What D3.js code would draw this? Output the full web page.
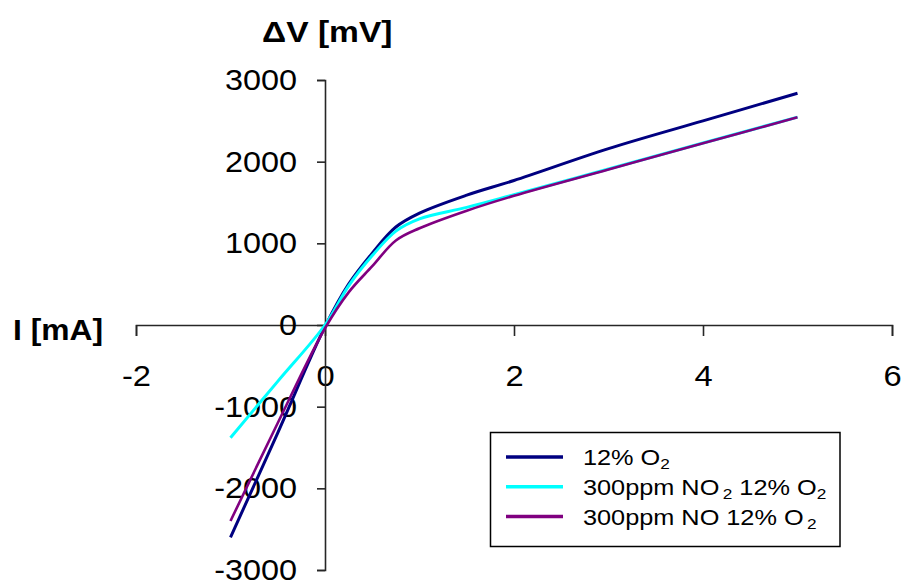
<!DOCTYPE html>
<html><head><meta charset="utf-8">
<script src="https://cdn.jsdelivr.net/npm/d3@7"></script>
<style>
body{margin:0;background:#fff}
svg{display:block}
text{font-family:"Liberation Sans",Arial,Helvetica,sans-serif}
</style>
</head><body>
<svg id="chart" width="901" height="585"></svg>
<script>
// ---- data ----
const currentMA = [-1, -0.5, 0, 0.25, 0.5, 0.75, 1, 1.5, 2, 3, 4, 5];
const o2Only    = [-2600, -1320, -20, 500, 880, 1200, 1370, 1590, 1770, 2160, 2500, 2837];
const no2O2     = [-1380, -690, 0, 480, 850, 1150, 1300, 1440, 1595, 1910, 2228, 2545];
const noO2      = [-2400, -1200, -40, 400, 720, 1035, 1185, 1400, 1582, 1904, 2226, 2543];
const seriesColors = ["#000080", "#00FFFF", "#800080"];
const legendLabels = [
  [["12% O", 0], ["2", 1]],
  [["300ppm NO", 0], ["2", 1], [" 12% O", 0], ["2", 1]],
  [["300ppm NO 12% O", 0], ["2", 1]]
];
const xTicks = [-2, 0, 2, 4, 6];
const yTicks = [-3000, -2000, -1000, 0, 1000, 2000, 3000];

const svg = d3.select("#chart");
const x = d3.scaleLinear().domain([-2, 6]).range([136, 892]);
const y = d3.scaleLinear().domain([-3000, 3000]).range([570, 80]);

const axisColor = "#262626";

// x axis through V=0
const gx = svg.append("g")
  .attr("transform", `translate(0,${y(0)})`)
  .call(d3.axisBottom(x).tickValues(xTicks).tickFormat(d => String(d))
        .tickSize(11).tickSizeOuter(11).tickPadding(29));
// y axis through I=0
const gy = svg.append("g")
  .attr("transform", `translate(${x(0)},0)`)
  .call(d3.axisLeft(y).tickValues(yTicks).tickFormat(d => String(d))
        .tickSize(8).tickSizeOuter(8).tickPadding(20));

[gx, gy].forEach(g => {
  g.selectAll("path.domain").attr("stroke", axisColor).attr("stroke-width", 1.6);
  g.selectAll(".tick line").attr("stroke", axisColor).attr("stroke-width", 1.6);
  g.selectAll(".tick text").attr("fill", "#000").attr("font-size", 30)
    .style("font-family", '"Liberation Sans",Arial,sans-serif');
});
// horizontal stretch of tick labels about their anchor point
gx.selectAll(".tick text").attr("transform", "scale(1.09,1)");
gy.selectAll(".tick text").attr("transform", "translate(-28,0) scale(1.08,1) translate(28,0)");

// axis titles
svg.append("text").attr("transform", "translate(262,42) scale(1.12,1)")
  .attr("font-size", 30).attr("font-weight", "bold").attr("fill", "#000")
  .text("ΔV [mV]");
svg.append("text").attr("transform", "translate(13,340) scale(1.06,1)")
  .attr("font-size", 30).attr("font-weight", "bold").attr("fill", "#000")
  .text("I [mA]");

// series
const series = [o2Only, no2O2, noO2];
const line = d3.line().x(d => x(d[0])).y(d => y(d[1])).curve(d3.curveCatmullRom.alpha(0.5));
series.forEach((vals, i) => {
  svg.append("path")
    .datum(currentMA.map((c, j) => [c, vals[j]]))
    .attr("fill", "none")
    .attr("stroke", seriesColors[i])
    .attr("stroke-width", i === 2 ? 2.6 : 3)
    .attr("stroke-linejoin", "round")
    .attr("d", line);
});

// legend
const lg = svg.append("g");
lg.append("rect").attr("x", 490.5).attr("y", 432.5).attr("width", 349.5).attr("height", 114)
  .attr("fill", "#fff").attr("stroke", "#000").attr("stroke-width", 1.5);
legendLabels.forEach((segs, i) => {
  const cy = 457 + i * 29.8;
  lg.append("line").attr("x1", 506).attr("x2", 563).attr("y1", cy).attr("y2", cy)
    .attr("stroke", seriesColors[i]).attr("stroke-width", 3.5);
  const t = lg.append("text").attr("transform", `translate(583,${cy + 8}) scale(1.15,1)`)
    .attr("font-size", 22).attr("fill", "#000");
  let shifted = false;
  segs.forEach(([s, sub], k) => {
    const ts = t.append("tspan").text(s);
    if (sub) {
      ts.attr("font-size", 15).attr("dy", 4);
      if ((i === 1 && k === 1) || i === 2) ts.attr("dx", 3);
      shifted = true;
    } else if (shifted) { ts.attr("dy", -4); shifted = false; }
  });
});
</script>
</body></html>
